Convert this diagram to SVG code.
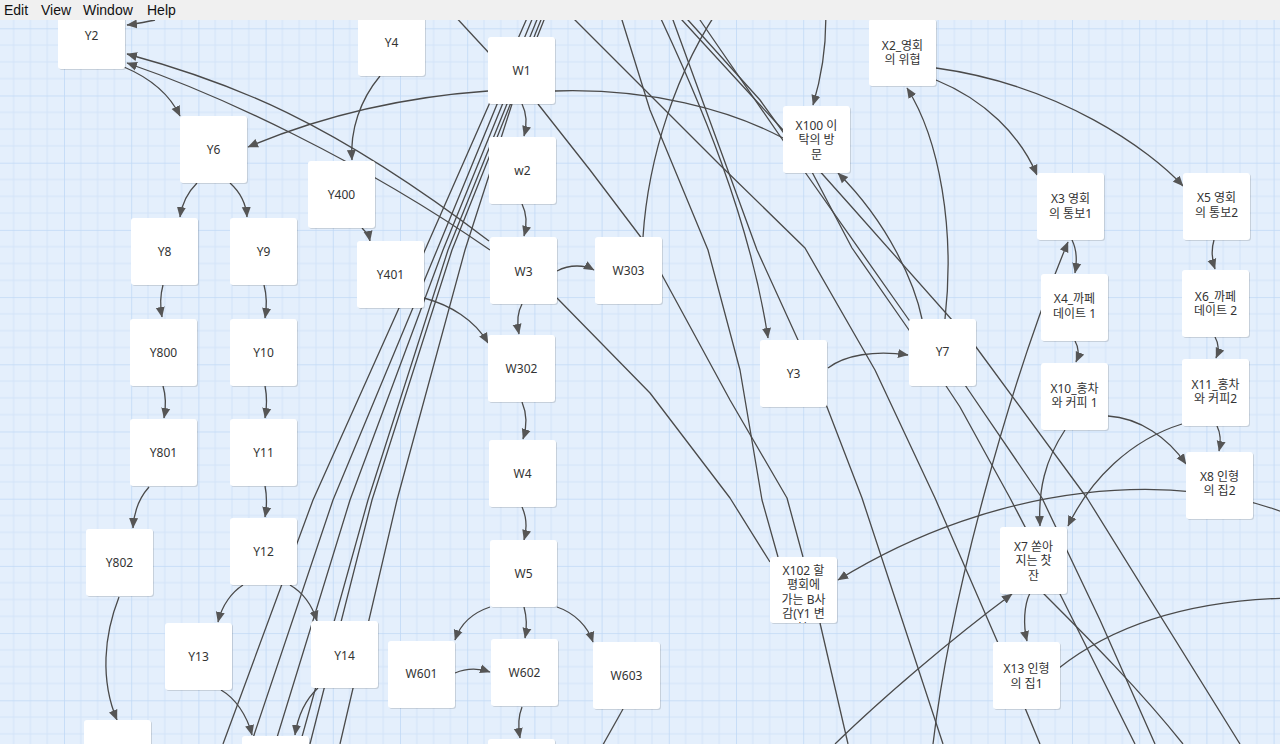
<svg xmlns="http://www.w3.org/2000/svg" width="1280" height="744" viewBox="0 0 1280 744">
<style>
.n{fill:#ffffff}
.sh{fill:#000;opacity:0.13}
.t{font-family:"Noto Sans","Noto Sans CJK KR",sans-serif;font-size:12px;fill:#333;text-anchor:middle}
.c{fill:none;stroke:#4a4a4a;stroke-width:1.3;stroke-linejoin:round}
.a{marker-end:url(#ah)}
.m{font-family:"Liberation Sans",Arial,sans-serif;font-size:14px;fill:#111}
</style>
<defs>
<pattern id="grid" patternUnits="userSpaceOnUse" x="64" y="28.3" width="67.2" height="67.2">
<rect width="67.2" height="67.2" fill="#e4effc"/>
<path d="M16.8,0V67.2M33.6,0V67.2M50.4,0V67.2M0,16.8H67.2M0,33.6H67.2M0,50.4H67.2" stroke="#d3e4f9" stroke-width="1"/>
<path d="M0,0V67.2M0,0H67.2" stroke="#c1d9f6" stroke-width="1.6"/>
</pattern>
<marker id="ah" markerUnits="userSpaceOnUse" markerWidth="11" markerHeight="10" refX="10" refY="5" orient="auto">
<path d="M0,0.5 L10.5,5 L0,9.5 z" fill="#555"/>
</marker>
<clipPath id="cx102"><rect x="770" y="557" width="67" height="66"/></clipPath>
</defs>
<rect width="1280" height="744" fill="url(#grid)"/>
<g id="connectors">
<path class="c" d="M535,0 L425,250 L313,500 L223,744"/>
<path class="c" d="M540,0 L437,250 L333,500 L251,744"/>
<path class="c" d="M545,0 L443,250 L350,500 L275,744"/>
<path class="c" d="M549,0 L448,250 L368,500 L300,744"/>
<path class="c" d="M552,0 L452,250 L372,500 L310,744"/>
<path class="c" d="M512,104 L465,250 L397,500 L340,744"/>
<path class="c" d="M560,0 L575,20 L640,85 L720,165 L805,248 L875,370 L935,498 L998,643 L1040,744"/>
<path class="c" d="M615,0 L622,20 L650,110 L708,250 L740,370 L762,500 L778,557"/>
<path class="c" d="M665,0 L673,20 L757,250 L798,340 L827,407 L862,498 L943,744"/>
<path class="c" d="M670,0 L688,20 L760,100 L812,172 L852,248 L909,330 L960,407 L1010,498 L1060,594 L1135,744"/>
<path class="c" d="M686,0 L700,20 L800,165 L909,320 L965,385 L1042,498 L1100,620 L1155,744"/>
<path class="c" d="M663,0 L682,20 L783,130 L850,205 L976,347 L1087,498 L1240,744"/>
<path class="c" d="M538,104 L590,170 L643,240 L662,275 L730,400 L787,498 L803,557"/>
<path class="c" d="M557,298 L650,393 L730,498 L770,562"/>
<path class="c" d="M820,623 L848,744"/>
<path class="c" d="M555,91 C650,88 730,110 783,138"/>
<path class="c" d="M440,0 L489,53"/>
<path class="c" d="M643,237 C648,160 675,70 725,0"/>
<path class="c" d="M623,709 L600,750"/>
<path class="c" d="M1043,593 C1090,640 1140,690 1183,744"/>
<path class="c a" d="M155,20 C145,22 136,24 127,25"/>
<path class="c a" d="M124,67 C150,78 170,95 180,116"/>
<path class="c a" d="M489,241 C330,120 230,82 127,54"/>
<path class="c a" d="M490,250 C360,160 220,95 127,63"/>
<path class="c a" d="M488,91 Q360,100 248,147"/>
<path class="c a" d="M197,183 C188,192 182,203 180,217"/>
<path class="c a" d="M230,183 C240,192 246,203 247,217"/>
<path class="c a" d="M163,285 C160,296 160,306 162,317"/>
<path class="c a" d="M264,285 C267,296 267,306 265,318"/>
<path class="c a" d="M163,386 C166,396 166,407 164,418"/>
<path class="c a" d="M265,386 C267,396 267,407 265,418"/>
<path class="c a" d="M149,487 C140,497 134,510 133,528"/>
<path class="c a" d="M265,486 C267,496 267,506 265,517"/>
<path class="c a" d="M119,597 C104,635 100,680 117,720"/>
<path class="c a" d="M243,585 C232,592 222,605 218,622"/>
<path class="c a" d="M290,585 C302,592 312,605 317,621"/>
<path class="c a" d="M221,690 C235,698 247,715 252,735"/>
<path class="c a" d="M318,688 C305,700 298,715 295,735"/>
<path class="c a" d="M380,76 C360,100 350,130 352,160"/>
<path class="c a" d="M362,228 C366,232 369,236 370,241"/>
<path class="c a" d="M424,298 C450,305 475,320 488,343"/>
<path class="c a" d="M522,104 C527,114 527,125 524,136"/>
<path class="c a" d="M522,204 C527,214 527,225 524,236"/>
<path class="c a" d="M557,271 C570,264 585,265 594,270"/>
<path class="c a" d="M522,304 C517,313 517,324 519,334"/>
<path class="c a" d="M522,402 C527,414 527,427 523,439"/>
<path class="c a" d="M522,507 C527,518 527,529 524,540"/>
<path class="c a" d="M490,607 C472,613 460,625 455,640"/>
<path class="c a" d="M524,607 C527,618 527,628 525,638"/>
<path class="c a" d="M557,607 C575,613 588,627 593,642"/>
<path class="c a" d="M455,673 C467,668 478,668 490,672"/>
<path class="c a" d="M522,707 C518,717 518,727 520,738"/>
<path class="c a" d="M828,368 C845,355 875,350 908,355"/>
<path class="c a" d="M652,0 C700,100 750,220 768,338"/>
<path class="c a" d="M945,319 C955,230 940,140 907,88"/>
<path class="c a" d="M922,319 C915,285 890,225 838,173"/>
<path class="c a" d="M825,0 C828,40 822,75 813,105"/>
<path class="c a" d="M936,80 C985,100 1020,135 1037,175"/>
<path class="c a" d="M936,68 C1060,85 1150,150 1183,186"/>
<path class="c a" d="M933,744 C950,600 1010,380 1068,242"/>
<path class="c a" d="M1072,240 C1077,250 1077,262 1075,273"/>
<path class="c a" d="M1075,341 C1079,348 1079,355 1076,362"/>
<path class="c a" d="M1214,240 C1211,250 1212,260 1215,269"/>
<path class="c a" d="M1215,337 C1219,344 1219,351 1216,358"/>
<path class="c a" d="M1217,426 C1221,434 1221,442 1219,451"/>
<path class="c a" d="M1108,416 C1140,418 1168,438 1186,464"/>
<path class="c a" d="M1065,430 C1045,460 1038,490 1040,526"/>
<path class="c a" d="M1182,424 C1130,440 1090,480 1068,526"/>
<path class="c a" d="M1030,593 C1024,605 1023,625 1027,641"/>
<path class="c a" d="M835,744 C880,700 950,640 1012,594"/>
<path class="c a" d="M1290,515 C1180,470 1000,480 838,580"/>
<path class="c" d="M1059,668 C1120,620 1200,600 1290,598"/>
</g>
<g id="Y2"><rect class="sh" x="59" y="3" width="67" height="67" rx="3"/><rect class="n" x="58" y="2" width="67" height="67" rx="3"/><text class="t" x="91.5" y="39.5">Y2</text></g>
<g id="Y4"><rect class="sh" x="359" y="10" width="67" height="67" rx="3"/><rect class="n" x="358" y="9" width="67" height="67" rx="3"/><text class="t" x="391.5" y="46.5">Y4</text></g>
<g id="W1"><rect class="sh" x="489" y="38" width="67" height="67" rx="3"/><rect class="n" x="488" y="37" width="67" height="67" rx="3"/><text class="t" x="521.5" y="74.5">W1</text></g>
<g id="w2"><rect class="sh" x="490" y="138" width="67" height="67" rx="3"/><rect class="n" x="489" y="137" width="67" height="67" rx="3"/><text class="t" x="522.5" y="174.5">w2</text></g>
<g id="Y6"><rect class="sh" x="181" y="117" width="67" height="67" rx="3"/><rect class="n" x="180" y="116" width="67" height="67" rx="3"/><text class="t" x="213.5" y="154">Y6</text></g>
<g id="Y400"><rect class="sh" x="309" y="162" width="67" height="67" rx="3"/><rect class="n" x="308" y="161" width="67" height="67" rx="3"/><text class="t" x="341.5" y="198.5">Y400</text></g>
<g id="Y8"><rect class="sh" x="132" y="219" width="67" height="67" rx="3"/><rect class="n" x="131" y="218" width="67" height="67" rx="3"/><text class="t" x="164.5" y="255.5">Y8</text></g>
<g id="Y9"><rect class="sh" x="231" y="219" width="67" height="67" rx="3"/><rect class="n" x="230" y="218" width="67" height="67" rx="3"/><text class="t" x="263.5" y="255.5">Y9</text></g>
<g id="Y401"><rect class="sh" x="358" y="242" width="67" height="67" rx="3"/><rect class="n" x="357" y="241" width="67" height="67" rx="3"/><text class="t" x="390.5" y="278.5">Y401</text></g>
<g id="W3"><rect class="sh" x="491" y="238" width="67" height="67" rx="3"/><rect class="n" x="490" y="237" width="67" height="67" rx="3"/><text class="t" x="523.5" y="275.5">W3</text></g>
<g id="W303"><rect class="sh" x="596" y="238" width="67" height="67" rx="3"/><rect class="n" x="595" y="237" width="67" height="67" rx="3"/><text class="t" x="628.5" y="274.5">W303</text></g>
<g id="Y800"><rect class="sh" x="131" y="320" width="67" height="67" rx="3"/><rect class="n" x="130" y="319" width="67" height="67" rx="3"/><text class="t" x="163.5" y="356.5">Y800</text></g>
<g id="Y10"><rect class="sh" x="231" y="320" width="67" height="67" rx="3"/><rect class="n" x="230" y="319" width="67" height="67" rx="3"/><text class="t" x="263.5" y="356.5">Y10</text></g>
<g id="W302"><rect class="sh" x="489" y="336" width="67" height="67" rx="3"/><rect class="n" x="488" y="335" width="67" height="67" rx="3"/><text class="t" x="521.5" y="372.5">W302</text></g>
<g id="Y801"><rect class="sh" x="131" y="420" width="67" height="67" rx="3"/><rect class="n" x="130" y="419" width="67" height="67" rx="3"/><text class="t" x="163.5" y="456.5">Y801</text></g>
<g id="Y11"><rect class="sh" x="231" y="420" width="67" height="67" rx="3"/><rect class="n" x="230" y="419" width="67" height="67" rx="3"/><text class="t" x="263.5" y="456.5">Y11</text></g>
<g id="W4"><rect class="sh" x="490" y="441" width="67" height="67" rx="3"/><rect class="n" x="489" y="440" width="67" height="67" rx="3"/><text class="t" x="522.5" y="477.5">W4</text></g>
<g id="Y802"><rect class="sh" x="87" y="530" width="67" height="67" rx="3"/><rect class="n" x="86" y="529" width="67" height="67" rx="3"/><text class="t" x="119.5" y="566.5">Y802</text></g>
<g id="Y12"><rect class="sh" x="231" y="519" width="67" height="67" rx="3"/><rect class="n" x="230" y="518" width="67" height="67" rx="3"/><text class="t" x="263.5" y="555.5">Y12</text></g>
<g id="W5"><rect class="sh" x="491" y="541" width="67" height="67" rx="3"/><rect class="n" x="490" y="540" width="67" height="67" rx="3"/><text class="t" x="523.5" y="577.5">W5</text></g>
<g id="Y13"><rect class="sh" x="166" y="624" width="67" height="67" rx="3"/><rect class="n" x="165" y="623" width="67" height="67" rx="3"/><text class="t" x="198.5" y="660.5">Y13</text></g>
<g id="Y14"><rect class="sh" x="312" y="622" width="67" height="67" rx="3"/><rect class="n" x="311" y="621" width="67" height="67" rx="3"/><text class="t" x="344.5" y="659.5">Y14</text></g>
<g id="W601"><rect class="sh" x="389" y="642" width="67" height="67" rx="3"/><rect class="n" x="388" y="641" width="67" height="67" rx="3"/><text class="t" x="421.5" y="677.5">W601</text></g>
<g id="W602"><rect class="sh" x="492" y="640" width="67" height="67" rx="3"/><rect class="n" x="491" y="639" width="67" height="67" rx="3"/><text class="t" x="524.5" y="676.5">W602</text></g>
<g id="W603"><rect class="sh" x="594" y="643" width="67" height="67" rx="3"/><rect class="n" x="593" y="642" width="67" height="67" rx="3"/><text class="t" x="626.5" y="679.5">W603</text></g>
<g id="nodeB1"><rect class="sh" x="85" y="721" width="67" height="67" rx="3"/><rect class="n" x="84" y="720" width="67" height="67" rx="3"/></g>
<g id="nodeB2"><rect class="sh" x="243" y="737" width="67" height="67" rx="3"/><rect class="n" x="242" y="736" width="67" height="67" rx="3"/></g>
<g id="nodeB3"><rect class="sh" x="489" y="740" width="67" height="67" rx="3"/><rect class="n" x="488" y="739" width="67" height="67" rx="3"/></g>
<g id="X100"><rect class="sh" x="784" y="107" width="67" height="67" rx="3"/><rect class="n" x="783" y="106" width="67" height="67" rx="3"/><text class="t" y="129.5"><tspan x="816.5">X100 이</tspan><tspan x="816.5" dy="14.5">탁의 방</tspan><tspan x="816.5" dy="14.5">문</tspan></text></g>
<g id="X2"><rect class="sh" x="870" y="20" width="67" height="67" rx="3"/><rect class="n" x="869" y="19" width="67" height="67" rx="3"/><text class="t" y="49.5"><tspan x="902.5">X2_영회</tspan><tspan x="902.5" dy="14.5">의 위협</tspan></text></g>
<g id="Y3"><rect class="sh" x="761" y="341" width="67" height="67" rx="3"/><rect class="n" x="760" y="340" width="67" height="67" rx="3"/><text class="t" x="793.5" y="377.5">Y3</text></g>
<g id="Y7"><rect class="sh" x="910" y="320" width="67" height="67" rx="3"/><rect class="n" x="909" y="319" width="67" height="67" rx="3"/><text class="t" x="942.5" y="355.5">Y7</text></g>
<g id="X3"><rect class="sh" x="1038" y="174" width="67" height="67" rx="3"/><rect class="n" x="1037" y="173" width="67" height="67" rx="3"/><text class="t" y="203"><tspan x="1070.5">X3 영회</tspan><tspan x="1070.5" dy="14.5">의 통보1</tspan></text></g>
<g id="X5"><rect class="sh" x="1184" y="174" width="67" height="67" rx="3"/><rect class="n" x="1183" y="173" width="67" height="67" rx="3"/><text class="t" y="202"><tspan x="1216.5">X5 영회</tspan><tspan x="1216.5" dy="14.5">의 통보2</tspan></text></g>
<g id="X4"><rect class="sh" x="1042" y="275" width="67" height="67" rx="3"/><rect class="n" x="1041" y="274" width="67" height="67" rx="3"/><text class="t" y="303"><tspan x="1074.5">X4_까페</tspan><tspan x="1074.5" dy="14.5">데이트 1</tspan></text></g>
<g id="X6"><rect class="sh" x="1183" y="271" width="67" height="67" rx="3"/><rect class="n" x="1182" y="270" width="67" height="67" rx="3"/><text class="t" y="300.5"><tspan x="1215.5">X6_까페</tspan><tspan x="1215.5" dy="14.5">데이트 2</tspan></text></g>
<g id="X10"><rect class="sh" x="1042" y="364" width="67" height="67" rx="3"/><rect class="n" x="1041" y="363" width="67" height="67" rx="3"/><text class="t" y="392.5"><tspan x="1074.5">X10_홍차</tspan><tspan x="1074.5" dy="14.5">와 커피 1</tspan></text></g>
<g id="X11"><rect class="sh" x="1183" y="360" width="67" height="67" rx="3"/><rect class="n" x="1182" y="359" width="67" height="67" rx="3"/><text class="t" y="388.5"><tspan x="1215.5">X11_홍차</tspan><tspan x="1215.5" dy="14.5">와 커피2</tspan></text></g>
<g id="X8"><rect class="sh" x="1187" y="453" width="67" height="67" rx="3"/><rect class="n" x="1186" y="452" width="67" height="67" rx="3"/><text class="t" y="480.5"><tspan x="1219.5">X8 인형</tspan><tspan x="1219.5" dy="14.5">의 집2</tspan></text></g>
<g id="X7"><rect class="sh" x="1001" y="528" width="67" height="67" rx="3"/><rect class="n" x="1000" y="527" width="67" height="67" rx="3"/><text class="t" y="550.5"><tspan x="1033.5">X7 쏟아</tspan><tspan x="1033.5" dy="14.5">지는 찻</tspan><tspan x="1033.5" dy="14.5">잔</tspan></text></g>
<g id="X13"><rect class="sh" x="994" y="643" width="67" height="67" rx="3"/><rect class="n" x="993" y="642" width="67" height="67" rx="3"/><text class="t" y="673"><tspan x="1026.5">X13 인형</tspan><tspan x="1026.5" dy="14.5">의 집1</tspan></text></g>
<g id="X102"><rect class="sh" x="771" y="558" width="67" height="66" rx="3"/><rect class="n" x="770" y="557" width="67" height="66" rx="3"/><g clip-path="url(#cx102)"><text class="t" y="574.5"><tspan x="803.5">X102 할</tspan><tspan x="803.5" dy="14.5">평회에</tspan><tspan x="803.5" dy="14.5">가는 B사</tspan><tspan x="803.5" dy="14.5">감(Y1 변</tspan><tspan x="803.5" dy="14.5">형)</tspan></text></g></g>
<g id="menubar"><rect x="0" y="0" width="1280" height="20" fill="#f0f0f0"/><text class="m" x="4" y="15">Edit</text><text class="m" x="41" y="15">View</text><text class="m" x="83" y="15">Window</text><text class="m" x="147" y="15">Help</text></g>
</svg>
